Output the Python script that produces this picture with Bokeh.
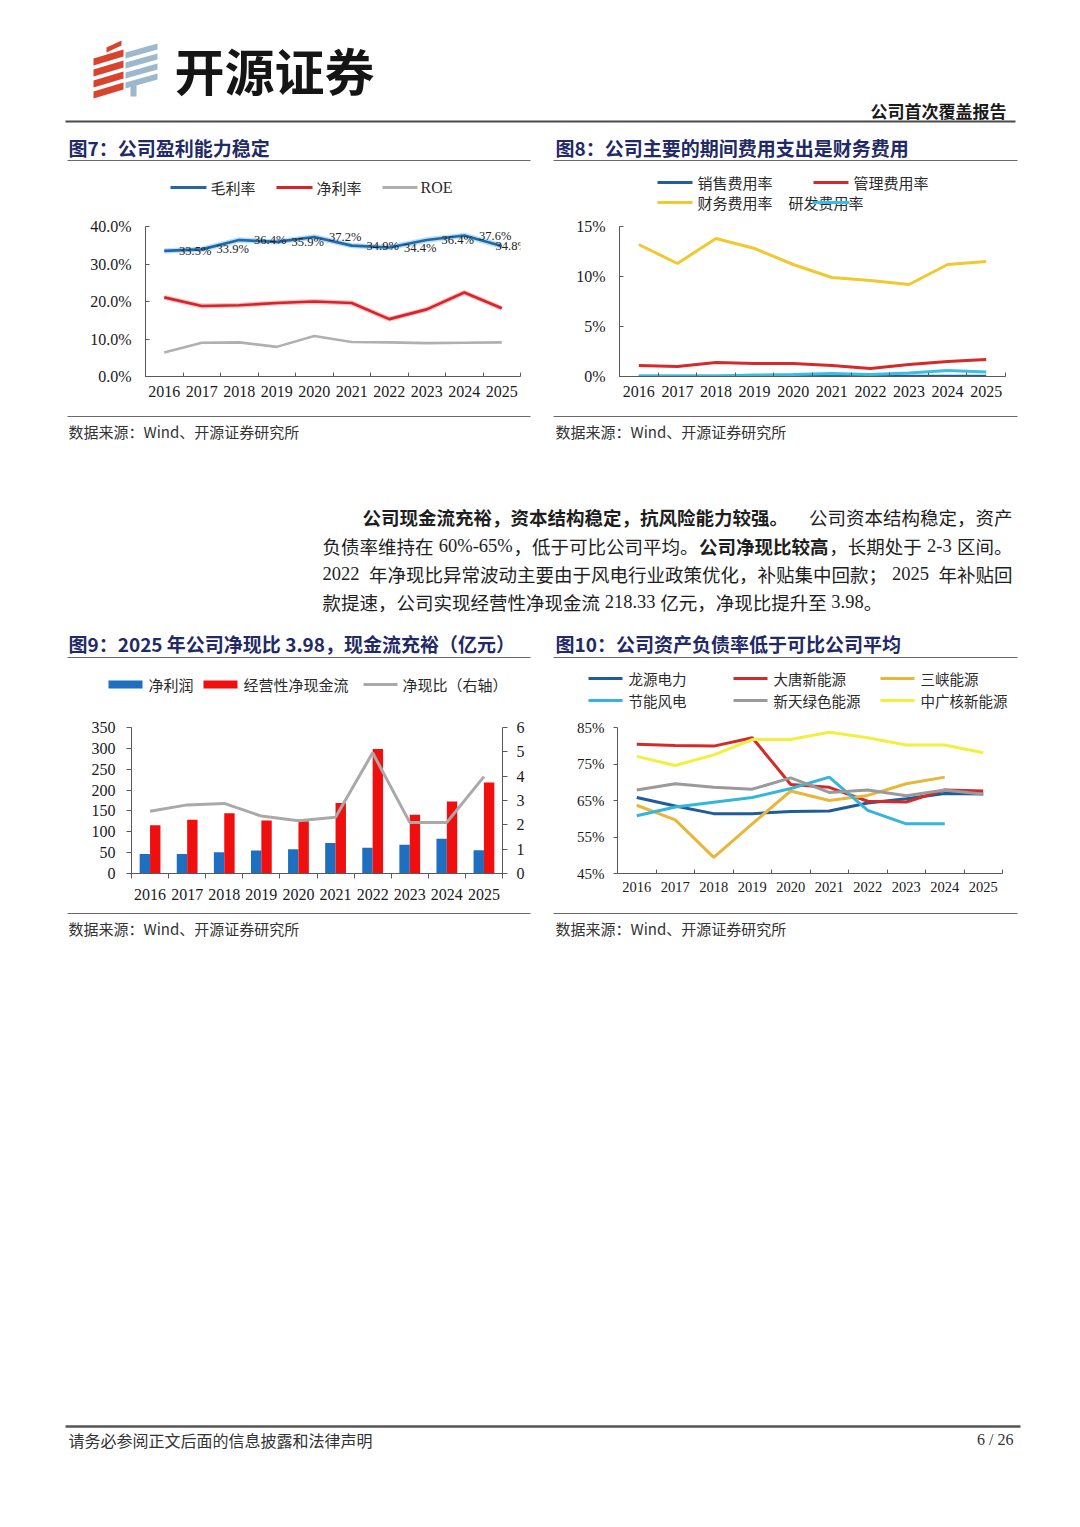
import numpy as np
from bokeh.plotting import figure
from bokeh.models import (Range1d, LinearAxis, FixedTicker, LabelSet,
                          PrintfTickFormatter, ColumnDataSource)
from bokeh.layouts import column, row
from bokeh.core.properties import value
from bokeh.transform import dodge
from bokeh.embed import file_html
from bokeh.resources import INLINE

# ---------------- data ----------------
years = ["2016", "2017", "2018", "2019", "2020", "2021", "2022", "2023", "2024", "2025"]

# Fig 7 (%)
gross_margin = [33.5, 33.9, 36.4, 35.9, 37.2, 34.9, 34.4, 36.4, 37.6, 34.8]
net_margin = [21.1, 18.8, 19.0, 19.6, 20.0, 19.6, 15.3, 17.9, 22.4, 18.2]
roe = [6.4, 9.0, 9.1, 7.9, 10.8, 9.2, 9.1, 8.9, 9.0, 9.1]

# Fig 8 (%)
selling_rate = [0.03, 0.03, 0.03, 0.03, 0.03, 0.03, 0.03, 0.03, 0.03, 0.03]
admin_rate = [1.1, 1.0, 1.4, 1.3, 1.3, 1.1, 0.8, 1.2, 1.5, 1.7]
finance_rate = [13.2, 11.3, 13.8, 12.8, 11.2, 9.9, 9.6, 9.2, 11.2, 11.5]
rd_rate = [0.05, 0.05, 0.05, 0.15, 0.2, 0.3, 0.2, 0.35, 0.6, 0.45]

# Fig 9 (亿元, ratio)
net_profit = [46.8, 46.8, 50.7, 55.2, 58.2, 73.4, 62.0, 68.9, 83.2, 56.0]
op_cash_flow = [115.9, 128.7, 144.6, 127.2, 125.0, 168.9, 298.4, 140.9, 172.7, 218.33]
cash_ratio = [2.56, 2.82, 2.88, 2.36, 2.17, 2.31, 4.96, 2.10, 2.10, 3.98]

# Fig 10 (%)
nan = float("nan")
longyuan = [65.8, 63.5, 61.4, 61.4, 62.0, 62.1, 64.3, 65.5, 66.9, 66.8]
datang = [80.4, 80.1, 79.9, 82.2, 69.4, 68.6, 64.8, 64.6, 67.9, 67.6]
sanxia = [63.7, 59.7, 49.4, 58.6, 67.6, 65.0, 66.4, 69.6, 71.4, nan]
jieneng = [60.8, 63.2, 64.5, 65.8, 68.3, 71.4, 62.3, 58.6, 58.6, nan]
xintian = [67.9, 69.6, 68.6, 68.1, 71.2, 67.2, 67.9, 66.3, 67.9, 66.7]
cgn = [77.1, 74.6, 77.5, 81.7, 81.7, 83.7, 82.2, 80.2, 80.2, 78.1]

# ---------------- styling helpers ----------------
PAGE_W = 1080
OX = 0
CJK = value("Noto Sans CJK SC")
SERIF = value("Liberation Serif")
AX = "#5a5a5a"
TITLE_C = "#1f2a66"
TXT = "#2a2a2a"
N = len(years)
XI = list(range(N))   # category positions of the years on the x scale


def deco(y_top, h):
    p = figure(width=PAGE_W, height=h, x_range=Range1d(OX, OX + PAGE_W),
               y_range=Range1d(y_top + h, y_top), toolbar_location=None,
               output_backend="svg", min_border=0, x_axis_location=None,
               y_axis_location=None)
    p.outline_line_color = None
    p.grid.grid_line_color = None
    p.background_fill_color = "white"
    p.border_fill_color = "white"
    return p


def txt(p, x, y, s, size, color=TXT, bold=False, align="left", font=CJK):
    p.text(x=[x], y=[y], text=[s], text_font=font, text_font_size=size,
           text_color=color, text_align=align, text_baseline="middle",
           text_font_style="bold" if bold else "normal")


def hline(p, x1, x2, y, color="#6a6a6a", width=1.0):
    p.line(x=[x1, x2], y=[y, y], line_color=color, line_width=width)


def chart(w, h, ml, mr, mt, mb, yr):
    p = figure(width=w, height=h, x_range=Range1d(-0.5, N - 0.5), y_range=yr,
               toolbar_location=None, output_backend="svg",
               min_border_left=ml, min_border_right=mr, min_border_top=mt,
               min_border_bottom=mb, x_axis_location=None, y_axis_location=None)
    p.outline_line_color = None
    p.grid.grid_line_color = None
    p.background_fill_color = "white"
    p.border_fill_color = "white"
    return p


def xaxis(p, tin, tout, size, standoff):
    ax = LinearAxis(ticker=FixedTicker(ticks=XI,
                                       minor_ticks=[i - 0.5 for i in range(N + 1)]),
                    major_label_overrides={i: y for i, y in zip(XI, years)},
                    major_tick_line_color=None, major_tick_in=0, major_tick_out=0,
                    minor_tick_in=tin, minor_tick_out=tout, minor_tick_line_color=AX,
                    axis_line_color=AX, major_label_text_font="Liberation Serif",
                    major_label_text_font_size=size, major_label_text_color="#1a1a1a",
                    major_label_standoff=standoff)
    p.add_layout(ax, "below")


def yaxis(p, ticks, fmt, loc="left", tin=0, tout=0, size="16px", standoff=12,
          range_name="default"):
    ax = LinearAxis(y_range_name=range_name, ticker=FixedTicker(ticks=ticks),
                    formatter=PrintfTickFormatter(format=fmt),
                    major_tick_in=tin, major_tick_out=tout, major_tick_line_color=AX,
                    minor_tick_line_color=None, axis_line_color=AX,
                    major_label_text_font="Liberation Serif",
                    major_label_text_font_size=size, major_label_text_color="#1a1a1a",
                    major_label_standoff=standoff)
    p.add_layout(ax, loc)


def run_w(s, size, style):
    w = 0.0
    for ch in s:
        if style == "s":
            w += {"%": 0.833, "-": 0.333, ".": 0.25, " ": 0.25}.get(ch, 0.5)
        else:
            w += 0.25 if ch == " " else (0.55 if ord(ch) < 128 else 1.0)
    return w * size


def draw_para(p, lines, x_starts, ys, right, justify, size=18.5):
    for runs, x0, y, just in zip(lines, x_starts, ys, justify):
        widths = [run_w(s, size, st) for s, st in runs]
        gap = 0.0
        if just and len(runs) > 1:
            extra = right - x0 - sum(widths)
            if extra > 0:
                gap = extra / (len(runs) - 1)
        x = x0
        for (s, st), w in zip(runs, widths):
            lead = len(s) - len(s.lstrip(" "))
            xs = x + run_w(" " * lead, size, st)
            p.text(x=[xs], y=[y], text=[s.strip(" ")],
                   text_font=SERIF if st == "s" else CJK,
                   text_font_size=f"{size}px",
                   text_font_style="bold" if st == "cb" else "normal",
                   text_color="#1e1e1e", text_baseline="middle", text_align="left")
            x += w + gap


SOURCE = "数据来源：Wind、开源证券研究所"

# ---------------- band 1: header, titles, legends (y 0..213) ----------------
b1 = deco(0, 213)
red_xs, red_ys, blue_xs, blue_ys = [], [], [], []
for k in range(4):
    yb = 58 + 11 * k
    red_xs.append([93, 123, 123, 93])
    red_ys.append([yb, yb - 9, yb - 2, yb + 7])
    yb2 = 52 + 10 * k
    blue_xs.append([125, 157, 157, 125])
    blue_ys.append([yb2, yb2 - 9, yb2 - 3, yb2 + 6])
red_xs.append([106, 121, 121, 106]); red_ys.append([47, 40, 45, 52])
blue_xs.append([130, 136, 136, 130]); blue_ys.append([84, 84, 96, 96])
b1.patches(xs=red_xs, ys=red_ys, fill_color="#d9432e", line_color=None)
b1.patches(xs=blue_xs, ys=blue_ys, fill_color="#9db7cc", line_color=None)
txt(b1, 174, 68, "开源证券", "50px", color="#151515", bold=True)
txt(b1, 1006, 110, "公司首次覆盖报告", "17px", color="#1a1a1a", bold=True, align="right")
hline(b1, 65, 1015, 121, color="#4a4a4a", width=2)

txt(b1, 68, 147, "图7：公司盈利能力稳定", "19px", color=TITLE_C, bold=True)
hline(b1, 67, 530, 160)
txt(b1, 555, 147, "图8：公司主要的期间费用支出是财务费用", "19px", color=TITLE_C, bold=True)
hline(b1, 553, 1017, 160)

# legend fig 7
hline(b1, 170, 206, 187, color="#2268a6", width=3)
txt(b1, 210, 187, "毛利率", "15px")
hline(b1, 276, 312, 187, color="#d8232a", width=3)
txt(b1, 316, 187, "净利率", "15px")
hline(b1, 382, 417, 187, color="#b0b0b0", width=3)
txt(b1, 420, 187, "ROE", "16px", font=SERIF)

# legend fig 8
hline(b1, 657, 692, 182, color="#1f5f9e", width=3)
txt(b1, 697, 182, "销售费用率", "15px")
hline(b1, 813, 848, 182, color="#d42a2a", width=3)
txt(b1, 853, 182, "管理费用率", "15px")
hline(b1, 657, 692, 202, color="#f0c830", width=3)
txt(b1, 697, 202, "财务费用率", "15px")
txt(b1, 788, 202, "研发费用率", "15px")
hline(b1, 812, 849, 202, color="#3cbde4", width=3)

# ---------------- band 2: charts 7 & 8 (y 213..412) ----------------
src7 = ColumnDataSource(dict(
    x=XI, gross=gross_margin, net=net_margin, roe=roe,
    lbl=[f"{v:.1f}%" for v in gross_margin],
    xoff=[31] * (N - 1) + [10]))
p7 = chart(545, 199, 145, 25, 8, 36, Range1d(0, 40))
xaxis(p7, 4, 0, "16px", 9)
yaxis(p7, [0, 10, 20, 30, 40], "%.1f%%", tin=4, tout=0, size="16px", standoff=14)
p7.line("x", "roe", source=src7, line_color="#b0b0b0", line_width=2.6)
p7.line("x", "net", source=src7, line_color="#f4a8a8", line_width=5, line_alpha=0.7)
p7.line("x", "net", source=src7, line_color="#d8232a", line_width=2.6)
p7.line("x", "gross", source=src7, line_color="#a5d8f2", line_width=5.5, line_alpha=0.8)
p7.line("x", "gross", source=src7, line_color="#2268a6", line_width=2.6)
p7.add_layout(LabelSet(x="x", y="gross", text="lbl", x_offset="xoff", source=src7,
                       text_font="Liberation Serif", text_font_size="12.5px",
                       text_color="#222222", text_align="center", text_baseline="middle"))

src8 = ColumnDataSource(dict(x=XI, sell=selling_rate, admin=admin_rate,
                             fin=finance_rate, rd=rd_rate))
p8 = chart(535, 199, 74, 75, 13, 36, Range1d(0, 15))
xaxis(p8, 4, 0, "16px", 9)
yaxis(p8, [0, 5, 10, 15], "%d%%", tin=4, tout=0, size="16px", standoff=14)
p8.line("x", "sell", source=src8, line_color="#1f5f9e", line_width=3)
p8.line("x", "admin", source=src8, line_color="#d42a2a", line_width=3)
p8.line("x", "fin", source=src8, line_color="#f0c830", line_width=3)
p8.line("x", "rd", source=src8, line_color="#3cbde4", line_width=3)

# ---------------- band 3: sources, paragraph, titles, legends (y 412..710) ----------------
b3 = deco(412, 298)
hline(b3, 67, 530, 416)
hline(b3, 553, 1017, 416)
txt(b3, 68, 431, SOURCE, "15px", color="#333333")
txt(b3, 555, 431, SOURCE, "15px", color="#333333")

para = [
    [("公司现金流充裕，资本结构稳定，抗风险能力较强。", "cb"), ("公司资本结构稳定，资产", "c")],
    [("负债率维持在 ", "c"), ("60%-65%", "s"), ("，低于可比公司平均。", "c"),
     ("公司净现比较高", "cb"), ("，长期处于 ", "c"), ("2-3", "s"), (" 区间。", "c")],
    [("2022", "s"), (" 年净现比异常波动主要由于风电行业政策优化，补贴集中回款；", "c"),
     ("2025", "s"), (" 年补贴回", "c")],
    [("款提速，公司实现经营性净现金流 ", "c"), ("218.33", "s"), (" 亿元，净现比提升至 ", "c"),
     ("3.98", "s"), ("。", "c")],
]
draw_para(b3, para, [362, 322, 322, 322], [516, 545, 573, 601], 1012,
          [True, True, True, False])

txt(b3, 68, 643, "图9：2025 年公司净现比 3.98，现金流充裕（亿元）", "19px", color=TITLE_C, bold=True)
hline(b3, 67, 530, 657)
txt(b3, 555, 643, "图10：公司资产负债率低于可比公司平均", "19px", color=TITLE_C, bold=True)
hline(b3, 553, 1017, 657)

# legend fig 9
b3.quad(left=[108], right=[142], top=[680], bottom=[688], fill_color="#1f6fc0", line_color=None)
txt(b3, 148, 684, "净利润", "15px")
b3.quad(left=[203], right=[237], top=[680], bottom=[688], fill_color="#f00f0f", line_color=None)
txt(b3, 243, 684, "经营性净现金流", "15px")
hline(b3, 363, 397, 684, color="#a9a9a9", width=3)
txt(b3, 402, 684, "净现比（右轴）", "15px")

# legend fig 10
leg10 = [("龙源电力", "#1f5c99", 588, 678), ("大唐新能源", "#d42a2a", 733, 678),
         ("三峡能源", "#e8b73a", 880, 678), ("节能风电", "#33b5dc", 588, 700),
         ("新天绿色能源", "#9a9a9a", 733, 700), ("中广核新能源", "#f4ef3e", 880, 700)]
for name, col, lx, ly in leg10:
    hline(b3, lx, lx + 34, ly, color=col, width=3)
    txt(b3, lx + 40, ly, name, "14.5px")

# ---------------- band 4: charts 9 & 10 (y 710..910) ----------------
src9 = ColumnDataSource(dict(x=XI, profit=net_profit, cash=op_cash_flow, ratio=cash_ratio))
p9 = chart(545, 200, 131, 43, 9, 37, Range1d(0, 350))
p9.extra_y_ranges = {"ratio": Range1d(0, 6)}
xaxis(p9, 0, 5, "16px", 10)
yaxis(p9, [0, 50, 100, 150, 200, 250, 300, 350], "%d", tin=0, tout=5, size="16px", standoff=11)
yaxis(p9, [0, 1, 2, 3, 4, 5, 6], "%d", loc="right", tin=0, tout=5, size="16px",
      standoff=9, range_name="ratio")
p9.vbar(x=dodge("x", -0.14), top="profit", width=0.28, source=src9,
        fill_color="#1f6fc0", line_color=None)
p9.vbar(x=dodge("x", 0.14), top="cash", width=0.28, source=src9,
        fill_color="#f00f0f", line_color=None)
p9.line("x", "ratio", source=src9, y_range_name="ratio", line_color="#a9a9a9", line_width=3)

src10 = ColumnDataSource(dict(x=XI,
                              longyuan=np.array(longyuan, dtype=float),
                              datang=np.array(datang, dtype=float),
                              sanxia=np.array(sanxia, dtype=float),
                              jieneng=np.array(jieneng, dtype=float),
                              xintian=np.array(xintian, dtype=float),
                              cgn=np.array(cgn, dtype=float)))
p10 = chart(535, 200, 72, 78, 17, 32, Range1d(45, 85))
xaxis(p10, 4, 0, "14.5px", 8)
yaxis(p10, [45, 55, 65, 75, 85], "%d%%", tin=0, tout=4, size="15px", standoff=9)
for key, col in [("longyuan", "#1f5c99"), ("datang", "#d42a2a"), ("sanxia", "#e8b73a"),
                 ("jieneng", "#33b5dc"), ("xintian", "#9a9a9a"), ("cgn", "#f4ef3e")]:
    p10.line("x", key, source=src10, line_color=col, line_width=3)

# ---------------- band 5: sources, footer (y 910..1520) ----------------
b5 = deco(910, 610)
hline(b5, 67, 530, 913)
hline(b5, 553, 1017, 913)
txt(b5, 68, 928, SOURCE, "15px", color="#333333")
txt(b5, 555, 928, SOURCE, "15px", color="#333333")
hline(b5, 65, 1020, 1426, color="#555555", width=2.5)
txt(b5, 68, 1439, "请务必参阅正文后面的信息披露和法律声明", "16px", color="#333333")
txt(b5, 1013, 1439, "6 / 26", "16px", color="#333333", align="right", font=SERIF)

page = column(b1, row(p7, p8), b3, row(p9, p10), b5)

with open("out.html", "w") as f:
    f.write(file_html(page, INLINE))
